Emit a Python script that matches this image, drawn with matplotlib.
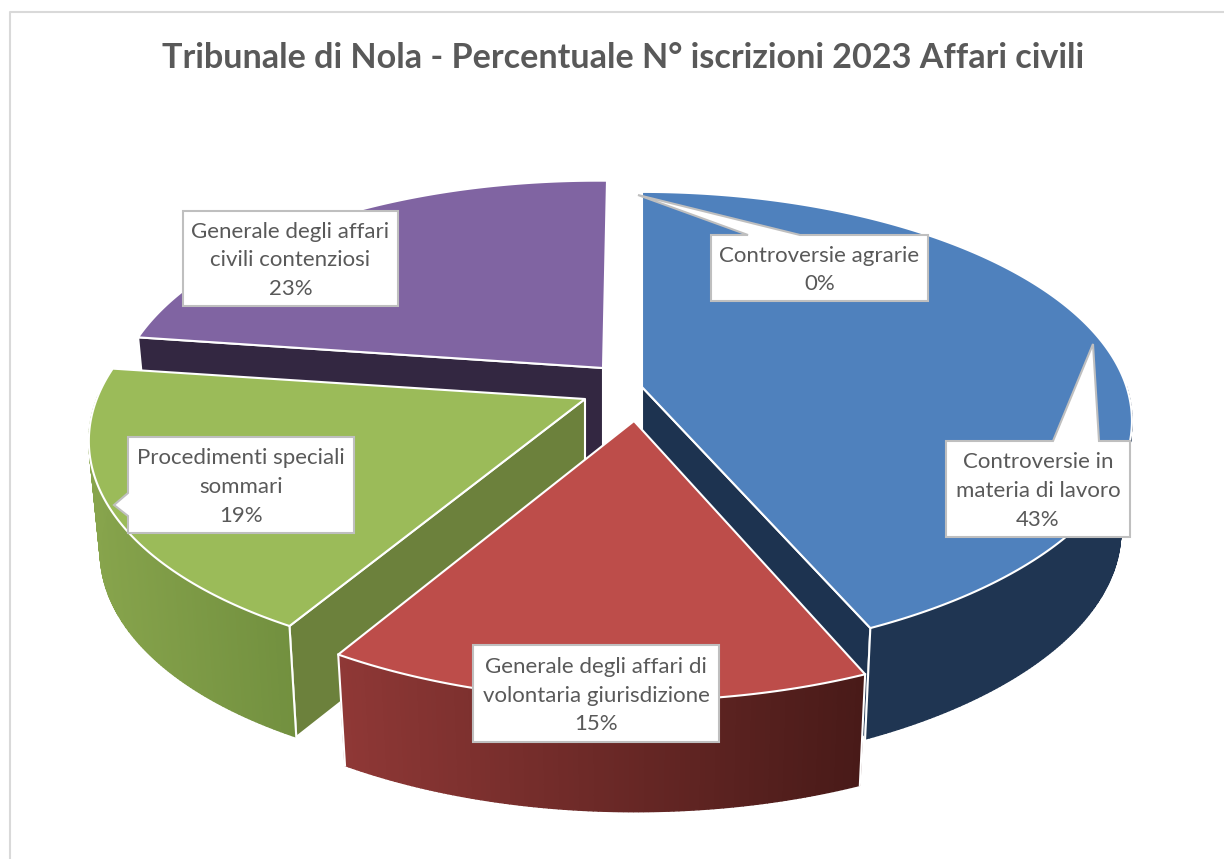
import numpy as np
import matplotlib
matplotlib.use('Agg')
import matplotlib.pyplot as plt
from matplotlib.patches import Polygon
from matplotlib.colors import to_rgb

plt.rcParams['font.family'] = ['Lato', 'DejaVu Sans']

# ---- data
title = 'Tribunale di Nola - Percentuale N° iscrizioni 2023 Affari civili'
categories = ['Controversie agrarie', 'Controversie in\nmateria di lavoro',
              'Generale degli affari di\nvolontaria giurisdizione',
              'Procedimenti speciali\nsommari',
              'Generale degli affari\ncivili contenziosi']
percent = [0, 43, 15, 19, 23]

# ---- layout of the exploded slices (apex in pixels, size factors, colours)
slice_style = {
    1: dict(apex=(642, 387), sx=0.975, sy=1.0, skew=14, tilt=0, lean=0,
            top='#4f81bd', cut='#1d3350', wall=('#1f3552', '#1f3552')),
    2: dict(apex=(634, 421), sx=1.0, sy=1.03, skew=17, tilt=10, lean=0,
            top='#bd4d4a', cut='#4b1a18', wall=('#8f3836', '#481a18')),
    3: dict(apex=(585, 399), sx=0.98, sy=0.985, skew=23, tilt=3, lean=0,
            top='#9bbb59', cut='#6c813c', wall=('#87a44c', '#72903f')),
    4: dict(apex=(603, 368), sx=0.965, sy=0.96, skew=17, tilt=4, lean=4,
            top='#8064a2', cut='#332741', wall=('#5a4672', '#5a4672')),
}
draw_order = [4, 3, 1, 2]   # back to front

RX, RY, K = 497, 227, 0.1635
DEPTH = 111
BOTTOM_SHRINK = 0.977


def project(theta, st, bottom=False):
    """theta en degres, sens horaire depuis 12h -> pixels"""
    apex = st['apex']
    u = np.sin(np.radians(theta))
    v = np.cos(np.radians(theta))
    w = 1 + K * v
    dx = st['sx'] * (RX * u - st['skew'] * (v * v - v) / 2) / w + st['lean'] * max(v, 0)
    dy = (-st['sy'] * RY * v + st['tilt'] * u) / w
    if bottom:
        return apex[0] + BOTTOM_SHRINK * dx, apex[1] + dy + DEPTH
    return apex[0] + dx, apex[1] + dy


fig = plt.figure(figsize=(12.24, 8.59), dpi=100)
ax = fig.add_axes([0, 0, 1, 1])
ax.set_xlim(0, 1224)
ax.set_ylim(859, 0)
ax.axis('off')

# cadre du graphique
ax.plot([10, 10, 1224], [859, 12, 12], color='#d9d9d9', lw=1.5)

ax.text(623, 58, title, ha='center', va='center', fontsize=24.6,
        fontweight='bold', color='#595959')

bounds = np.cumsum([0] + percent) * 3.6

for order, i in enumerate(draw_order):
    st = slice_style[i]
    z = (order + 1) * 10
    a0, a1 = bounds[i], bounds[i + 1]
    apex = st['apex']
    thetas = np.linspace(a0, a1, int((a1 - a0) * 2) + 2)

    # parois de coupe visibles
    for ang, visible in [(a0, 180 < a0 < 360), (a1, 0 < a1 < 180)]:
        if visible:
            p = project(ang, st)
            pb = project(ang, st, bottom=True)
            ax.add_patch(Polygon([apex, p, pb, (apex[0], apex[1] + DEPTH)],
                                 closed=True, facecolor=st['cut'],
                                 edgecolor='white', lw=1.5, zorder=z))

    # paroi exterieure en degrade (seulement la partie vers l'avant)
    c0, c1 = np.array(to_rgb(st['wall'][0])), np.array(to_rgb(st['wall'][1]))
    xs = [project(t, st)[0] for t in thetas]
    xmin, xmax = min(xs), max(xs)
    for t0, t1 in zip(thetas[:-1], thetas[1:]):
        if np.cos(np.radians((t0 + t1) / 2)) > 0:
            continue
        p0, p1 = project(t0, st), project(t1, st)
        q0, q1 = project(t0, st, True), project(t1, st, True)
        f = ((p0[0] + p1[0]) / 2 - xmin) / max(xmax - xmin, 1)
        col = c0 + (c1 - c0) * f
        ax.add_patch(Polygon([p0, p1, q1, q0], closed=True, facecolor=col,
                             edgecolor=col, lw=1, zorder=z + 1))
    # aretes blanches verticales du coin
    for ang in (a0, a1):
        if 90 < ang < 270:
            p, q = project(ang, st), project(ang, st, True)
            ax.plot([p[0], q[0]], [p[1], q[1]], color='white', lw=1.5,
                    zorder=z + 2)

    # dessus
    rim = [project(t, st) for t in thetas]
    ax.add_patch(Polygon([apex] + rim, closed=True, facecolor=st['top'],
                         edgecolor='white', lw=1.5, joinstyle='round',
                         zorder=z + 3))

# ---- etiquettes (boite : x0, x1, y0, y1 ; pointe eventuelle)
label_boxes = {
    0: dict(box=(711, 928, 235, 301), ptr=[(748, 235), (638, 195), (800, 235)]),
    1: dict(box=(946, 1130, 441, 537), ptr=[(1053, 441), (1093, 344), (1099, 441)]),
    2: dict(box=(473, 719, 645, 742), ptr=None),
    3: dict(box=(128, 354, 437, 533), ptr=[(128, 493), (114, 505), (128, 516)]),
    4: dict(box=(183, 398, 211, 306), ptr=None),
}

for i, lab in label_boxes.items():
    x0, x1, y0, y1 = lab['box']
    ptr = lab['ptr']
    if ptr is None:
        pts = [(x0, y0), (x1, y0), (x1, y1), (x0, y1)]
    elif i == 3:
        pts = [(x0, y0), (x1, y0), (x1, y1), (x0, y1)] + ptr[::-1]
    else:
        pts = [(x0, y0)] + ptr + [(x1, y0), (x1, y1), (x0, y1)]
    ax.add_patch(Polygon(pts, closed=True, facecolor='white', edgecolor='#bfbfbf',
                         lw=1.5, zorder=100))
    ax.text((x0 + x1) / 2, (y0 + y1) / 2 + 2, f'{categories[i]}\n{percent[i]}%',
            ha='center', va='center', fontsize=16, color='#595959',
            linespacing=1.55, zorder=101)

fig.savefig('out.png', dpi=100)
